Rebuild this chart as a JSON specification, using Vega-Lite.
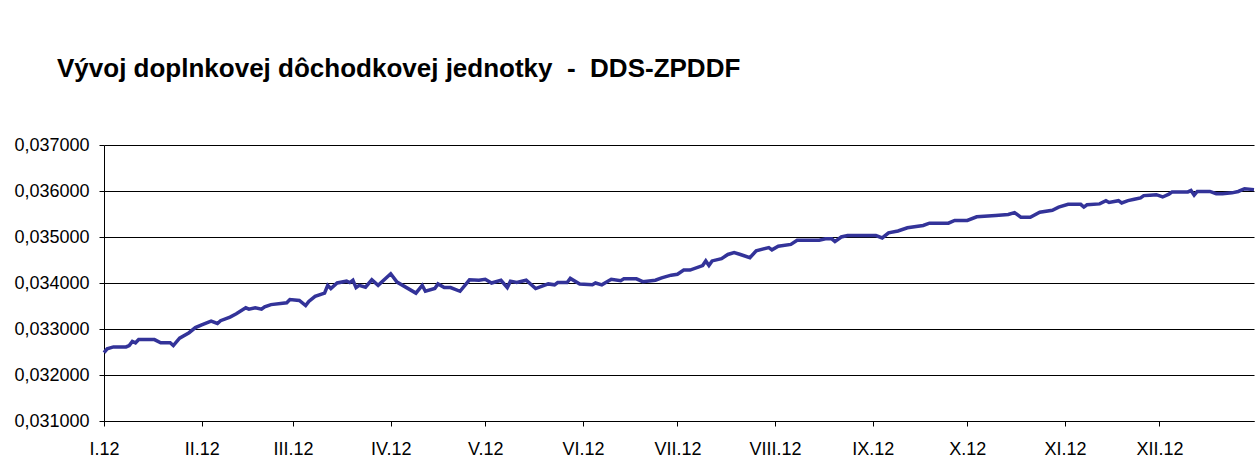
{
  "$schema": "https://vega.github.io/schema/vega-lite/v6.json",
  "width": 1150,
  "height": 276,
  "padding": {"left": 13, "top": 56, "right": 0, "bottom": 0},
  "background": "white",
  "title": {
    "text": "Vývoj doplnkovej dôchodkovej jednotky \u00a0-\u00a0 DDS-ZPDDF",
    "anchor": "start",
    "frame": "group",
    "dx": -47,
    "offset": 54,
    "font": "Liberation Sans",
    "fontSize": 26,
    "fontWeight": "bold",
    "color": "black"
  },
  "config": {
    "view": {"stroke": null},
    "axis": {
      "labelFont": "Liberation Sans",
      "labelFontSize": 18,
      "labelColor": "black",
      "domainColor": "black",
      "tickColor": "black",
      "gridColor": "black",
      "gridOpacity": 1,
      "gridWidth": 1,
      "domainWidth": 1,
      "tickWidth": 1,
      "tickSize": 5,
      "title": null
    }
  },
  "data": {
    "values": [
      {"date": "2012-01-01", "value": 0.032485},
      {"date": "2012-01-02", "value": 0.03257},
      {"date": "2012-01-04", "value": 0.03261},
      {"date": "2012-01-08", "value": 0.03261},
      {"date": "2012-01-09", "value": 0.03264},
      {"date": "2012-01-10", "value": 0.03273},
      {"date": "2012-01-11", "value": 0.0327},
      {"date": "2012-01-12", "value": 0.03277},
      {"date": "2012-01-17", "value": 0.03277},
      {"date": "2012-01-19", "value": 0.0327},
      {"date": "2012-01-22", "value": 0.0327},
      {"date": "2012-01-23", "value": 0.03264},
      {"date": "2012-01-25", "value": 0.0328},
      {"date": "2012-01-28", "value": 0.03292},
      {"date": "2012-01-30", "value": 0.03303},
      {"date": "2012-02-01", "value": 0.03309},
      {"date": "2012-02-04", "value": 0.03317},
      {"date": "2012-02-06", "value": 0.03312},
      {"date": "2012-02-07", "value": 0.03318},
      {"date": "2012-02-10", "value": 0.03326},
      {"date": "2012-02-12", "value": 0.03333},
      {"date": "2012-02-15", "value": 0.03346},
      {"date": "2012-02-16", "value": 0.03343},
      {"date": "2012-02-18", "value": 0.03346},
      {"date": "2012-02-20", "value": 0.03343},
      {"date": "2012-02-21", "value": 0.03348},
      {"date": "2012-02-23", "value": 0.03353},
      {"date": "2012-02-28", "value": 0.03357},
      {"date": "2012-02-29", "value": 0.03364},
      {"date": "2012-03-03", "value": 0.03362},
      {"date": "2012-03-05", "value": 0.03351},
      {"date": "2012-03-06", "value": 0.0336},
      {"date": "2012-03-08", "value": 0.03371},
      {"date": "2012-03-11", "value": 0.03378},
      {"date": "2012-03-12", "value": 0.03395},
      {"date": "2012-03-13", "value": 0.03388},
      {"date": "2012-03-15", "value": 0.034},
      {"date": "2012-03-18", "value": 0.03404},
      {"date": "2012-03-19", "value": 0.03401},
      {"date": "2012-03-20", "value": 0.03406},
      {"date": "2012-03-21", "value": 0.0339},
      {"date": "2012-03-22", "value": 0.03395},
      {"date": "2012-03-24", "value": 0.03391},
      {"date": "2012-03-26", "value": 0.03407},
      {"date": "2012-03-28", "value": 0.03395},
      {"date": "2012-04-01", "value": 0.0342},
      {"date": "2012-04-03", "value": 0.03402},
      {"date": "2012-04-09", "value": 0.03378},
      {"date": "2012-04-11", "value": 0.03395},
      {"date": "2012-04-12", "value": 0.03382},
      {"date": "2012-04-15", "value": 0.03388},
      {"date": "2012-04-16", "value": 0.03398},
      {"date": "2012-04-18", "value": 0.0339},
      {"date": "2012-04-20", "value": 0.0339},
      {"date": "2012-04-23", "value": 0.03382},
      {"date": "2012-04-26", "value": 0.03407},
      {"date": "2012-04-29", "value": 0.03406},
      {"date": "2012-05-01", "value": 0.03408},
      {"date": "2012-05-03", "value": 0.034},
      {"date": "2012-05-06", "value": 0.03406},
      {"date": "2012-05-08", "value": 0.0339},
      {"date": "2012-05-09", "value": 0.03404},
      {"date": "2012-05-11", "value": 0.03401},
      {"date": "2012-05-14", "value": 0.03406},
      {"date": "2012-05-17", "value": 0.03388},
      {"date": "2012-05-21", "value": 0.03398},
      {"date": "2012-05-23", "value": 0.03396},
      {"date": "2012-05-24", "value": 0.03401},
      {"date": "2012-05-27", "value": 0.03401},
      {"date": "2012-05-28", "value": 0.0341},
      {"date": "2012-05-31", "value": 0.03398},
      {"date": "2012-06-04", "value": 0.03396},
      {"date": "2012-06-05", "value": 0.034},
      {"date": "2012-06-07", "value": 0.03396},
      {"date": "2012-06-10", "value": 0.03408},
      {"date": "2012-06-13", "value": 0.03405},
      {"date": "2012-06-14", "value": 0.03409},
      {"date": "2012-06-18", "value": 0.03409},
      {"date": "2012-06-20", "value": 0.03403},
      {"date": "2012-06-24", "value": 0.03406},
      {"date": "2012-06-26", "value": 0.03411},
      {"date": "2012-06-29", "value": 0.03417},
      {"date": "2012-07-01", "value": 0.03419},
      {"date": "2012-07-03", "value": 0.03428},
      {"date": "2012-07-05", "value": 0.03428},
      {"date": "2012-07-09", "value": 0.03438},
      {"date": "2012-07-10", "value": 0.03448},
      {"date": "2012-07-11", "value": 0.03438},
      {"date": "2012-07-12", "value": 0.03448},
      {"date": "2012-07-15", "value": 0.03453},
      {"date": "2012-07-17", "value": 0.03462},
      {"date": "2012-07-19", "value": 0.03466},
      {"date": "2012-07-21", "value": 0.03462},
      {"date": "2012-07-24", "value": 0.03455},
      {"date": "2012-07-26", "value": 0.0347},
      {"date": "2012-07-30", "value": 0.03477},
      {"date": "2012-07-31", "value": 0.03472},
      {"date": "2012-08-02", "value": 0.0348},
      {"date": "2012-08-06", "value": 0.03484},
      {"date": "2012-08-08", "value": 0.03493},
      {"date": "2012-08-15", "value": 0.03493},
      {"date": "2012-08-17", "value": 0.03496},
      {"date": "2012-08-19", "value": 0.03496},
      {"date": "2012-08-20", "value": 0.0349},
      {"date": "2012-08-22", "value": 0.035},
      {"date": "2012-08-24", "value": 0.03503},
      {"date": "2012-09-02", "value": 0.03503},
      {"date": "2012-09-04", "value": 0.03498},
      {"date": "2012-09-06", "value": 0.03509},
      {"date": "2012-09-09", "value": 0.03513},
      {"date": "2012-09-12", "value": 0.0352},
      {"date": "2012-09-17", "value": 0.03525},
      {"date": "2012-09-19", "value": 0.0353},
      {"date": "2012-09-25", "value": 0.0353},
      {"date": "2012-09-27", "value": 0.03536},
      {"date": "2012-10-01", "value": 0.03536},
      {"date": "2012-10-04", "value": 0.03544},
      {"date": "2012-10-10", "value": 0.03547},
      {"date": "2012-10-14", "value": 0.03549},
      {"date": "2012-10-16", "value": 0.03553},
      {"date": "2012-10-18", "value": 0.03543},
      {"date": "2012-10-21", "value": 0.03543},
      {"date": "2012-10-24", "value": 0.03554},
      {"date": "2012-10-28", "value": 0.03558},
      {"date": "2012-10-30", "value": 0.03565},
      {"date": "2012-11-02", "value": 0.03571},
      {"date": "2012-11-06", "value": 0.03571},
      {"date": "2012-11-07", "value": 0.03565},
      {"date": "2012-11-08", "value": 0.0357},
      {"date": "2012-11-12", "value": 0.03572},
      {"date": "2012-11-14", "value": 0.03579},
      {"date": "2012-11-15", "value": 0.03575},
      {"date": "2012-11-18", "value": 0.03579},
      {"date": "2012-11-19", "value": 0.03574},
      {"date": "2012-11-21", "value": 0.03579},
      {"date": "2012-11-23", "value": 0.03582},
      {"date": "2012-11-25", "value": 0.03585},
      {"date": "2012-11-26", "value": 0.0359},
      {"date": "2012-11-28", "value": 0.03591},
      {"date": "2012-11-30", "value": 0.03592},
      {"date": "2012-12-02", "value": 0.03587},
      {"date": "2012-12-04", "value": 0.03593},
      {"date": "2012-12-05", "value": 0.03598},
      {"date": "2012-12-10", "value": 0.03598},
      {"date": "2012-12-11", "value": 0.03601},
      {"date": "2012-12-12", "value": 0.03591},
      {"date": "2012-12-13", "value": 0.03599},
      {"date": "2012-12-17", "value": 0.03599},
      {"date": "2012-12-19", "value": 0.03594},
      {"date": "2012-12-21", "value": 0.03594},
      {"date": "2012-12-24", "value": 0.03596},
      {"date": "2012-12-26", "value": 0.03599},
      {"date": "2012-12-28", "value": 0.03605},
      {"date": "2012-12-31", "value": 0.03603}
    ]
  },
  "mark": {"type": "line", "color": "#333399", "strokeWidth": 3.5, "clip": false},
  "encoding": {
    "x": {
      "field": "date",
      "type": "temporal",
      "scale": {
        "type": "utc",
        "domain": [
          {"year": 2012, "month": 1, "date": 1, "utc": true},
          {"year": 2012, "month": 12, "date": 31, "utc": true}
        ]
      },
      "axis": {
        "grid": false,
        "values": [
          {"year": 2012, "month": 1, "date": 1, "utc": true},
          {"year": 2012, "month": 2, "date": 1, "utc": true},
          {"year": 2012, "month": 3, "date": 1, "utc": true},
          {"year": 2012, "month": 4, "date": 1, "utc": true},
          {"year": 2012, "month": 5, "date": 1, "utc": true},
          {"year": 2012, "month": 6, "date": 1, "utc": true},
          {"year": 2012, "month": 7, "date": 1, "utc": true},
          {"year": 2012, "month": 8, "date": 1, "utc": true},
          {"year": 2012, "month": 9, "date": 1, "utc": true},
          {"year": 2012, "month": 10, "date": 1, "utc": true},
          {"year": 2012, "month": 11, "date": 1, "utc": true},
          {"year": 2012, "month": 12, "date": 1, "utc": true}
        ],
        "labelExpr": "['I','II','III','IV','V','VI','VII','VIII','IX','X','XI','XII'][utcmonth(datum.value)] + '.12'",
        "labelPadding": 14,
        "labelAngle": 0,
        "labelAlign": "center",
        "labelOverlap": false,
        "labelFlush": false
      }
    },
    "y": {
      "field": "value",
      "type": "quantitative",
      "scale": {"domain": [0.031, 0.037], "zero": false, "nice": false},
      "axis": {
        "values": [0.031, 0.032, 0.033, 0.034, 0.035, 0.036, 0.037],
        "labelExpr": "replace(format(datum.value, '.6f'), '.', ',')",
        "labelPadding": 10,
        "grid": true
      }
    }
  }
}
